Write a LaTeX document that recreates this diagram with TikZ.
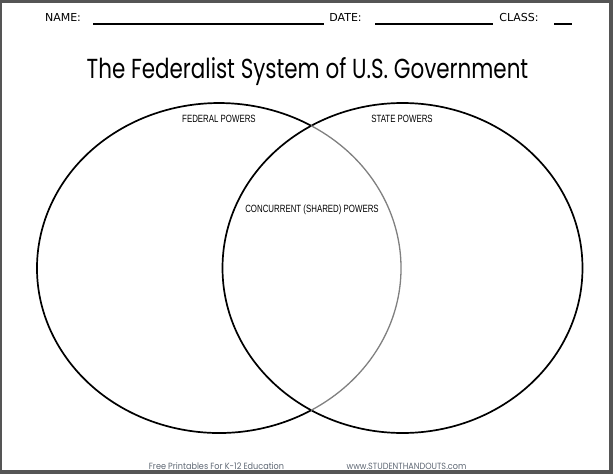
\documentclass[tikz,border=0pt]{standalone}
\usepackage{fontspec}
\usepackage{tikz}
\usepackage{xcolor}
\setmainfont{DejaVu Sans}
\newfontfamily\titlefont[FakeStretch=0.78]{Poppins}
\newfontfamily\labelfont[FakeStretch=0.75]{Liberation Sans}
\newfontfamily\footfont[FakeStretch=0.9]{Poppins}
\definecolor{framegray}{HTML}{555555}
\definecolor{footgray}{HTML}{5F6874}

\begin{document}
\begin{tikzpicture}[x=1pt, y=-1pt, line width=1.6pt,
  head/.style={font=\fontsize{11}{13}\selectfont},
  blank/.style={line width=1.1pt},
  ring/.style={line width=1.7pt, black},
  region/.style={font=\labelfont\fontsize{10.5}{12}\selectfont},
  foot/.style={font=\footfont\fontsize{9}{11}\selectfont, text=footgray}]
\useasboundingbox (0,0) rectangle (613,474);
\fill[framegray] (0,0) rectangle (613,474);
\fill[white] (2,3) rectangle (609,470);
% header line
\node[head] (name) at (63,17.6) {NAME:};
\node[head] (date) at (345.5,17.6) {DATE:};
\node[head] (class) at (519,17.6) {CLASS:};
\draw[blank] (93,24) -- (324,24);
\draw[blank] (375,24) -- (493,24);
\draw[blank] (554,24) -- (572,24);
\node[font=\titlefont\fontsize{27.5}{32}\selectfont] (title) at (307.5,72) {The Federalist System of U.S. Government};
% the two rings
\coordinate (fed) at (219,268);
\coordinate (sta) at (402.5,268);
\draw[ring] (sta) ellipse [x radius=180, y radius=165];
\draw[ring] (fed) ++(59.6:182 and 165) arc [start angle=59.6, end angle=300.4, x radius=182, y radius=165];
\draw[ring, gray, line width=1.3pt] (fed) ++(-59.6:182 and 165) arc [start angle=-59.6, end angle=59.6, x radius=182, y radius=165];
\node[region] (fedlbl) at (219,119) {FEDERAL POWERS};
\node[region] (stalbl) at (402,119) {STATE POWERS};
\node[region] (shared) at (312,210) {CONCURRENT (SHARED) POWERS};
% footer
\node[foot] (free) at (216.5,466) {Free Printables For K-12 Education};
\node[foot] (site) at (406.5,466) {www.STUDENTHANDOUTS.com};
\end{tikzpicture}
\end{document}
